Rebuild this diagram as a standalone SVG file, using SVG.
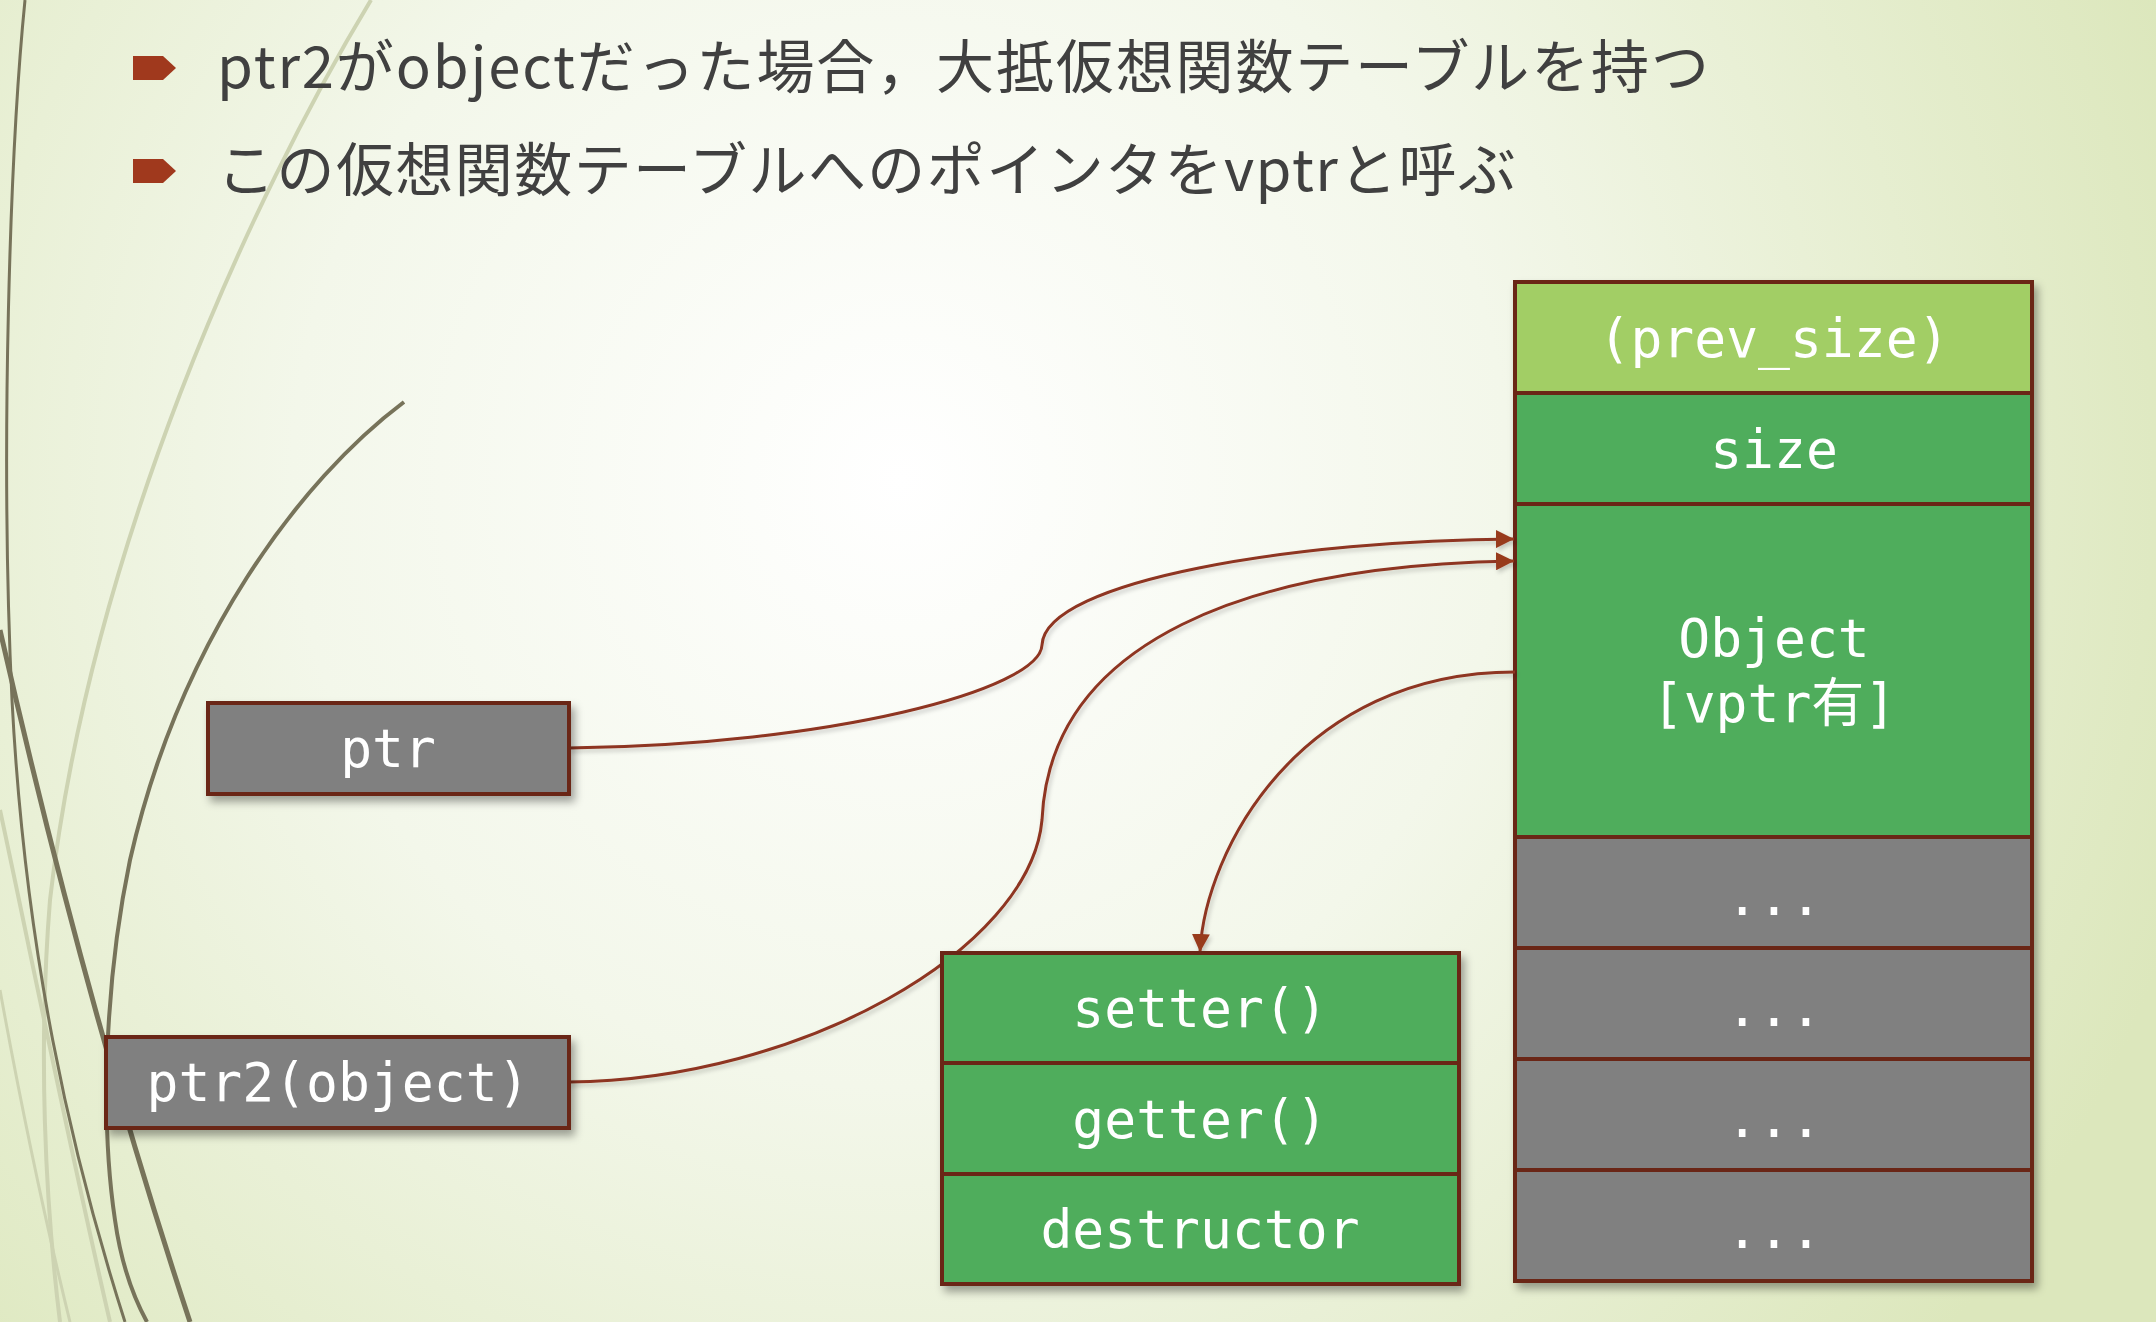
<svg xmlns="http://www.w3.org/2000/svg" width="2156" height="1322" viewBox="0 0 2156 1322">
  <defs>
    <radialGradient id="bg" cx="900" cy="480" r="1350" gradientUnits="userSpaceOnUse">
      <stop offset="0" stop-color="#ffffff"/>
      <stop offset="0.45" stop-color="#f3f7ea"/>
      <stop offset="1" stop-color="#dce7bc"/>
    </radialGradient>
    <filter id="shadow" x="-10%" y="-10%" width="130%" height="130%">
      <feDropShadow dx="4" dy="6" stdDeviation="4" flood-color="#000" flood-opacity="0.35"/>
    </filter>
    <filter id="lshadow" x="-10%" y="-10%" width="130%" height="130%">
      <feDropShadow dx="2" dy="3" stdDeviation="2" flood-color="#000" flood-opacity="0.2"/>
    </filter>
    <marker id="arrow" viewBox="0 0 18 18" refX="18" refY="9" markerWidth="18" markerHeight="18" markerUnits="userSpaceOnUse" orient="auto">
      <path d="M0,0 L18,9 L0,18 Z" fill="#983a1f"/>
    </marker>
    <style>
      .title { font-family: "Noto Sans CJK JP", "Noto Sans", sans-serif; font-size: 58px; fill: #404040; }
      .bullet { fill: #a0391d; }
      .box { stroke: #6b2815; stroke-width: 4; }
      .gray { fill: #808080; }
      .green { fill: #50ad5b; }
      .lgreen { fill: #a2ce65; }
      .lbl { font-family: "DejaVu Sans Mono", "Liberation Mono", "Noto Sans CJK JP", monospace; font-size: 53px; fill: #ffffff; text-anchor: middle; }
      .conn { fill: none; stroke: #8e3520; stroke-width: 3; }
      .wispD { fill: none; stroke: #77735a; }
      .wispL { fill: none; stroke: #cdd3b2; }
    </style>
  </defs>

  <rect x="0" y="0" width="2156" height="1322" fill="url(#bg)"/>

  <g id="decor">
    <path class="wispL" stroke-width="4" d="M371,0 C250,200 90,550 50,900 C38,1050 45,1200 60,1322"/>
    <path class="wispL" stroke-width="4" d="M0,810 C30,950 70,1150 110,1322"/>
    <path class="wispL" stroke-width="3" d="M0,990 C20,1100 45,1220 70,1322"/>
    <path class="wispD" stroke-width="3" d="M25,0 C10,150 0,450 12,700 C25,950 70,1150 125,1322"/>
    <path class="wispD" stroke-width="5" d="M0,630 C50,850 110,1080 190,1322"/>
    <path class="wispD" stroke-width="4" d="M404,402 C300,480 180,640 130,860 C105,980 100,1120 115,1220 C122,1270 135,1300 147,1322"/>
  </g>

  <g id="title">
    <polygon class="bullet" points="133,56 163,56 176,68 163,80 133,80"/>
    <text class="title" x="217" y="88" textLength="1492">ptr2がobjectだった場合，大抵仮想関数テーブルを持つ</text>
    <polygon class="bullet" points="133,159 163,159 176,171 163,183 133,183"/>
    <text class="title" x="217" y="191" textLength="1299">この仮想関数テーブルへのポインタをvptrと呼ぶ</text>
  </g>

  <g id="chunk" filter="url(#shadow)">
    <rect class="box lgreen" x="1515" y="282" width="517" height="111"/>
    <rect class="box green" x="1515" y="393" width="517" height="111"/>
    <rect class="box green" x="1515" y="504" width="517" height="333"/>
    <rect class="box gray" x="1515" y="837" width="517" height="111"/>
    <rect class="box gray" x="1515" y="948" width="517" height="111"/>
    <rect class="box gray" x="1515" y="1059" width="517" height="111"/>
    <rect class="box gray" x="1515" y="1170" width="517" height="111"/>
  </g>
  <g id="chunk-labels">
    <text class="lbl" x="1774" y="357">(prev_size)</text>
    <text class="lbl" x="1774" y="468">size</text>
    <text class="lbl" x="1774" y="657">Object</text>
    <text class="lbl" x="1774" y="722">[vptr有]</text>
    <text class="lbl" x="1774" y="915">...</text>
    <text class="lbl" x="1774" y="1026">...</text>
    <text class="lbl" x="1774" y="1137">...</text>
    <text class="lbl" x="1774" y="1248">...</text>
  </g>

  <g id="connectors" filter="url(#lshadow)">
    <path class="conn" marker-end="url(#arrow)" d="M569,748 C830,745 1040,690 1042,645 C1045,580 1300,540 1514,539"/>
    <path class="conn" marker-end="url(#arrow)" d="M569,1082 C800,1080 1030,950 1042,820 C1050,640 1250,565 1514,561"/>
    <path class="conn" marker-end="url(#arrow)" d="M1515,672 C1300,672 1205,850 1200,952"/>
  </g>

  <g id="ptr" filter="url(#shadow)">
    <rect class="box gray" x="208" y="703" width="361" height="91"/>
  </g>
  <text class="lbl" x="388" y="767">ptr</text>

  <g id="ptr2" filter="url(#shadow)">
    <rect class="box gray" x="106" y="1037" width="463" height="91"/>
  </g>
  <text class="lbl" x="338" y="1101">ptr2(object)</text>

  <g id="vtable" filter="url(#shadow)">
    <rect class="box green" x="942" y="953" width="517" height="110"/>
    <rect class="box green" x="942" y="1063" width="517" height="111"/>
    <rect class="box green" x="942" y="1174" width="517" height="110"/>
  </g>
  <g id="vtable-labels">
    <text class="lbl" x="1200" y="1027">setter()</text>
    <text class="lbl" x="1200" y="1138">getter()</text>
    <text class="lbl" x="1200" y="1248">destructor</text>
  </g>
</svg>
